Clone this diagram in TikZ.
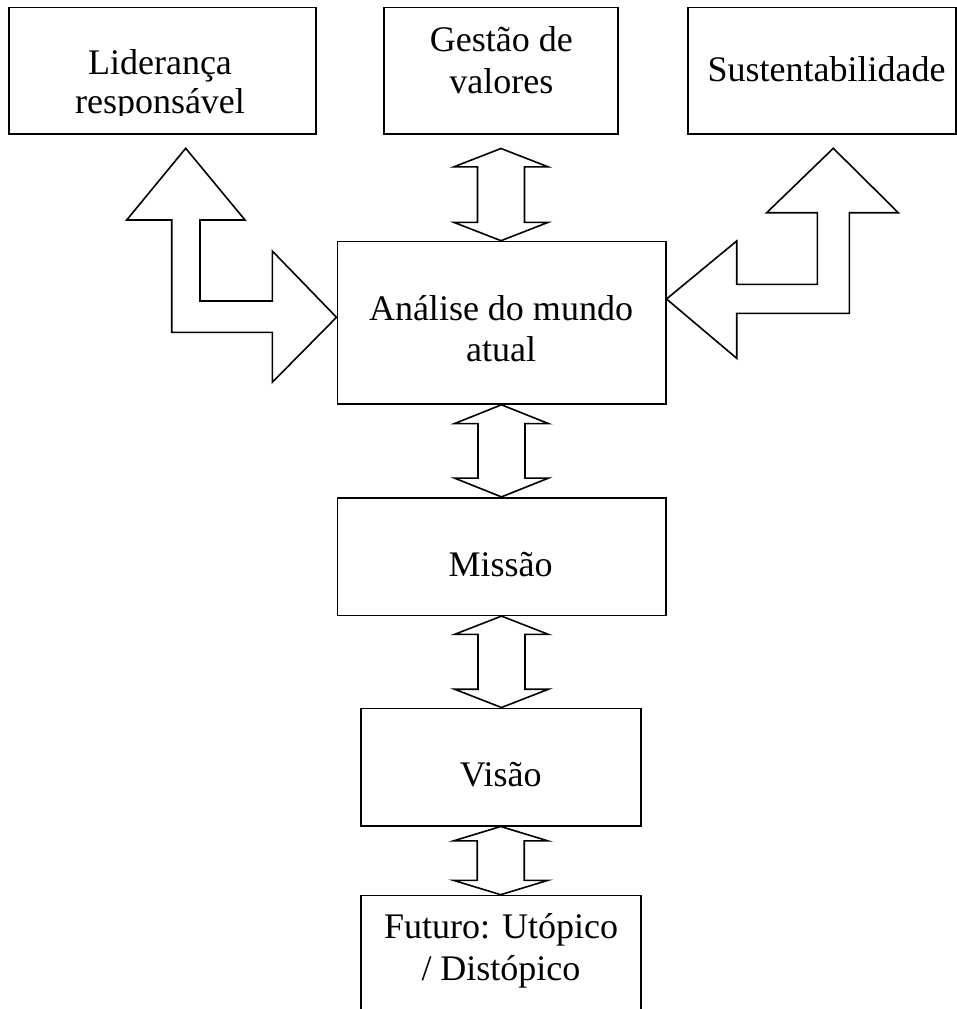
\documentclass[tikz,border=0pt]{standalone}
\usepackage{fontspec}
\setmainfont{Liberation Serif}
\usetikzlibrary{calc}
\tikzset{
  box/.style={draw, line width=1.6pt, inner sep=0pt, rectangle},
  txt/.style={inner sep=0pt, anchor=base, align=center, font=\fontsize{36}{41.6}\selectfont},
  blockarrow/.style={draw, line width=1.6pt, line join=miter, fill=white}
}
\newcommand\dblarrow[3]{%
  \draw[blockarrow] let \p1=(#1), \p2=(#2) in
    (\x1,\y1) -- (\x1+47,\y1-#3) -- (\x1+23.5,\y1-#3) -- (\x1+23.5,\y2+#3)
    -- (\x1+47,\y2+#3) -- (\x1,\y2) -- (\x1-47,\y2+#3) -- (\x1-23.5,\y2+#3)
    -- (\x1-23.5,\y1-#3) -- (\x1-47,\y1-#3) -- cycle;}
\begin{document}
\begin{tikzpicture}[x=1pt, y=-1pt]
  \clip (0,0) rectangle (957,1009);
  \fill[white] (0,0) rectangle (957,1009);

  % boxes
  \node[box, minimum width=307pt, minimum height=126.7pt] (l) at (162.5,70.65) {};
  \node[box, minimum width=234pt, minimum height=126.7pt] (g) at (501,70.65) {};
  \node[box, minimum width=268pt, minimum height=126.7pt] (s) at (822,70.65) {};
  \node[box, minimum width=328.4pt, minimum height=162.5pt] (a) at (501.5,322.75) {};
  \node[box, minimum width=328.4pt, minimum height=117.6pt] (m) at (501.5,556.5) {};
  \node[box, minimum width=280pt, minimum height=117.4pt] (v) at (500.7,767) {};
  \node[box, minimum width=280pt, minimum height=144.5pt] (f) at (500.7,967.75) {};

  % vertical double block arrows
  \coordinate (gtip) at ($(g.south)+(0,13.7)$);
  \dblarrow{gtip}{a.north}{18.3}
  \dblarrow{a.south}{m.north}{18.8}
  \dblarrow{m.south}{v.north}{18.3}
  \dblarrow{v.south}{f.north}{14.3}

  % left bent arrow (Liderança <-> Análise)
  \draw[blockarrow] (185.7,148.3) -- (245,220) -- (200,220) -- (200,301)
    -- (272.3,301) -- (272.3,251) -- (a.west |- 0,317.3) -- (272.3,382.3)
    -- (272.3,332.3) -- (171.7,332.3) -- (171.7,220) -- (126.7,220) -- cycle;

  % right bent arrow (Sustentabilidade <-> Análise)
  \draw[blockarrow] (833.3,148.3) -- (898.3,212.7) -- (849.3,212.7) -- (849.3,313.3)
    -- (736.7,313.3) -- (736.7,358.3) -- (a.east |- 0,299) -- (736.7,241)
    -- (736.7,284.3) -- (817.3,284.3) -- (817.3,212.7) -- (766.7,212.7) -- cycle;

  % texts (base anchor = baseline of the last line)
  \begin{scope}
    \clip ($(l.north west)+(2,2)$) rectangle ($(l.south east)+(-2,-19)$);
    \node[txt, font=\fontsize{36}{39}\selectfont] (lt) at (160,113) {Liderança\\responsável};
  \end{scope}
  \node[txt] (gt) at (501.3,93.3) {Gestão de\\valores};
  \node[txt] (st) at (826.5,81.7) {Sustentabilidade};
  \node[txt] (at) at (501,361.7) {Análise do mundo\\atual};
  \node[txt] (mt) at (500.5,576) {Missão};
  \node[txt] (vt) at (500.8,786.7) {Visão};
  \node[txt] (ft) at (501,980) {Futuro: Utópico\\/ Distópico};
\end{tikzpicture}
\end{document}
